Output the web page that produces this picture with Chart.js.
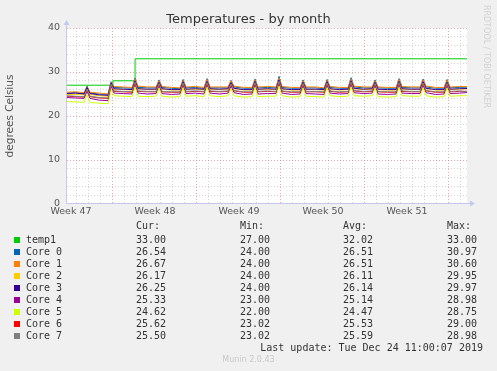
<!DOCTYPE html>
<html>
<head>
<meta charset="utf-8">
<script src="https://cdn.jsdelivr.net/npm/chart.js@4.4.1/dist/chart.umd.min.js"></script>
<style>
  html, body { margin: 0; padding: 0; background: #f0f0f0; }
  #wrap { position: relative; width: 497px; height: 371px; overflow: hidden; font-family: "DejaVu Sans", sans-serif; }
  #wrap canvas { position: absolute; left: 0; top: 0; }
  .t { position: absolute; white-space: pre; line-height: 12px; }
  .mono { font-family: "DejaVu Sans Mono", monospace; font-size: 10px; color: #333; }
  .sw { position: absolute; width: 6px; height: 6px; }
  #title { left: 0; width: 497px; top: 11px; text-align: center; font-size: 13px; line-height: 15px; color: #333; }
  #rrd { left: 486px; top: 5px; font-size: 8px; color: #d2d2d2; transform-origin: 0 0; transform: rotate(90deg) translate(0, -5px); line-height: 10px; }
  #munin { left: 0; width: 497px; text-align: center; top: 355px; font-size: 8px; line-height: 10px; color: #c8c8c8; }
</style>
</head>
<body>
<div id="wrap">
  <canvas id="chart" width="497" height="371"></canvas>
  <div class="t" id="title">Temperatures - by month</div>
  <div class="t" id="rrd">RRDTOOL / TOBI OETIKER</div>
  <div class="t" id="munin">Munin 2.0.43</div>
</div>
<script>
// time in days since start of the graph (12 px per day)
const days = [0, 0.7,
  1.42, 1.67, 1.92, 2.7,
  3.42, 3.67, 3.92, 4.7,
  5.42, 5.67, 5.92, 6.7,
  7.42, 7.67, 7.92, 8.7,
  9.42, 9.67, 9.92, 10.7,
  11.42, 11.67, 11.92, 12.7,
  13.42, 13.67, 13.92, 14.7,
  15.42, 15.67, 15.92, 16.7,
  17.42, 17.67, 17.92, 18.7,
  19.42, 19.67, 19.92, 20.7,
  21.42, 21.67, 21.92, 22.7,
  23.42, 23.67, 23.92, 24.7,
  25.42, 25.67, 25.92, 26.7,
  27.42, 27.67, 27.92, 28.7,
  29.42, 29.67, 29.92, 30.7,
  31.42, 31.67, 31.92, 32.7,
  33.33];

const temp1Days = [0, 3.83, 5.67, 33.33];
const temp1 = [27, 28, 33, 33];

const core0 = [25.2, 25.3,
  25.1, 26.8, 25.2, 25.0,  24.9, 27.8, 26.5, 26.4,  26.3, 28.6, 26.5, 26.4,  26.4, 28.2, 26.5, 26.3,
  26.2, 28.3, 26.4, 26.5,  26.3, 28.5, 26.4, 26.4,  26.4, 28.1, 26.6, 26.3,  26.3, 28.4, 26.4, 26.5,
  26.4, 29.0, 26.5, 26.3,  26.3, 28.2, 26.4, 26.4,  26.2, 28.3, 26.5, 26.3,  26.3, 28.7, 26.6, 26.4,
  26.4, 28.2, 26.4, 26.3,  26.3, 28.5, 26.5, 26.4,  26.4, 28.4, 26.6, 26.3,  26.3, 28.3, 26.4, 26.5,
  26.54];
const core1 = [25.4, 25.5,
  25.3, 26.6, 25.4, 25.2,  25.0, 27.6, 26.7, 26.6,  26.5, 28.4, 26.8, 26.6,  26.6, 28.0, 26.7, 26.5,
  26.4, 28.1, 26.6, 26.7,  26.5, 28.3, 26.6, 26.6,  26.6, 28.0, 26.8, 26.5,  26.5, 28.2, 26.6, 26.7,
  26.6, 28.6, 26.7, 26.5,  26.5, 28.0, 26.6, 26.6,  26.4, 28.1, 26.7, 26.5,  26.5, 28.4, 26.8, 26.6,
  26.6, 28.0, 26.6, 26.5,  26.5, 28.3, 26.7, 26.6,  26.6, 28.2, 26.8, 26.5,  26.5, 28.1, 26.6, 26.7,
  26.67];
const core2 = [24.9, 24.9,
  24.8, 26.3, 24.9, 24.6,  24.5, 27.3, 26.1, 26.0,  25.9, 27.9, 26.2, 26.0,  26.0, 27.6, 26.1, 25.9,
  25.9, 27.7, 26.0, 26.1,  26.0, 27.8, 26.1, 26.0,  26.1, 27.5, 26.2, 25.9,  25.9, 27.8, 26.0, 26.1,
  26.0, 28.1, 26.1, 25.9,  25.9, 27.6, 26.0, 26.0,  25.9, 27.7, 26.1, 25.9,  26.0, 27.9, 26.2, 26.0,
  26.1, 27.6, 26.0, 25.9,  25.9, 27.8, 26.1, 26.0,  26.0, 27.7, 26.2, 25.9,  25.9, 27.6, 26.0, 26.1,
  26.17];
const core3 = [25.1, 25.2,
  25.0, 26.5, 25.1, 24.8,  24.7, 27.5, 26.2, 26.1,  26.0, 28.0, 26.2, 26.1,  26.1, 27.7, 26.2, 26.0,
  26.0, 27.8, 26.1, 26.2,  26.1, 27.9, 26.2, 26.1,  26.2, 27.6, 26.3, 26.0,  26.0, 27.9, 26.1, 26.2,
  26.1, 28.2, 26.2, 26.0,  26.0, 27.7, 26.1, 26.1,  26.0, 27.8, 26.2, 26.0,  26.1, 28.0, 26.3, 26.1,
  26.2, 27.7, 26.1, 26.0,  26.0, 27.9, 26.2, 26.1,  26.1, 27.8, 26.3, 26.0,  26.0, 27.7, 26.1, 26.2,
  26.25];
const core4 = [24.2, 24.1,
  24.0, 25.6, 24.0, 23.6,  23.5, 26.8, 25.2, 25.1,  25.0, 27.2, 25.2, 25.0,  25.1, 26.9, 25.1, 24.9,
  25.0, 27.0, 25.1, 25.2,  25.0, 27.1, 25.2, 25.0,  25.2, 26.8, 25.3, 24.9,  25.0, 27.1, 25.0, 25.1,
  25.1, 27.4, 25.2, 24.9,  25.0, 26.9, 25.1, 25.0,  24.9, 27.0, 25.2, 25.0,  25.1, 27.2, 25.3, 25.1,
  25.2, 26.9, 25.0, 24.9,  25.0, 27.1, 25.2, 25.1,  25.1, 27.0, 25.3, 24.9,  25.0, 26.9, 25.1, 25.2,
  25.33];
const core5 = [23.3, 23.2,
  23.1, 24.8, 23.1, 22.9,  22.8, 26.0, 24.6, 24.5,  24.4, 26.6, 24.5, 24.4,  24.5, 26.3, 24.5, 24.3,
  24.4, 26.4, 24.5, 24.6,  24.4, 26.5, 24.6, 24.4,  24.6, 26.2, 24.6, 24.3,  24.4, 26.5, 24.4, 24.5,
  24.5, 26.8, 24.6, 24.3,  24.4, 26.3, 24.5, 24.4,  24.3, 26.4, 24.6, 24.4,  24.5, 26.6, 24.6, 24.5,
  24.6, 26.3, 24.4, 24.3,  24.4, 26.5, 24.6, 24.5,  24.5, 26.4, 24.6, 24.3,  24.4, 26.3, 24.5, 24.6,
  24.62];
const core6 = [24.5, 24.4,
  24.3, 25.9, 24.4, 24.1,  24.0, 27.0, 25.6, 25.5,  25.4, 27.5, 25.6, 25.5,  25.5, 27.2, 25.5, 25.4,
  25.4, 27.3, 25.5, 25.6,  25.5, 27.4, 25.6, 25.5,  25.6, 27.1, 25.7, 25.4,  25.4, 27.4, 25.5, 25.6,
  25.5, 27.7, 25.6, 25.4,  25.4, 27.2, 25.5, 25.5,  25.4, 27.3, 25.6, 25.4,  25.5, 27.5, 25.7, 25.5,
  25.6, 27.2, 25.5, 25.4,  25.4, 27.4, 25.6, 25.5,  25.5, 27.3, 25.7, 25.4,  25.4, 27.2, 25.5, 25.6,
  25.62];
const core7 = [24.6, 24.5,
  24.4, 26.0, 24.5, 24.2,  24.1, 27.2, 25.7, 25.6,  25.5, 27.7, 25.7, 25.6,  25.6, 27.4, 25.6, 25.5,
  25.5, 27.5, 25.6, 25.7,  25.6, 27.6, 25.7, 25.6,  25.7, 27.3, 25.8, 25.5,  25.5, 27.6, 25.6, 25.7,
  25.6, 27.9, 25.7, 25.5,  25.5, 27.4, 25.6, 25.6,  25.5, 27.5, 25.7, 25.5,  25.6, 27.7, 25.8, 25.6,
  25.7, 27.4, 25.6, 25.5,  25.5, 27.6, 25.7, 25.6,  25.6, 27.5, 25.8, 25.5,  25.5, 27.4, 25.6, 25.7,
  25.50];

const names = ['temp1', 'Core 0', 'Core 1', 'Core 2', 'Core 3', 'Core 4', 'Core 5', 'Core 6', 'Core 7'];
const colors = ['#00CC00', '#0066B3', '#FF8000', '#FFCC00', '#330099', '#990099', '#CCFF00', '#FF0000', '#808080'];
const curVals = [33.00, 26.54, 26.67, 26.17, 26.25, 25.33, 24.62, 25.62, 25.50];
const minVals = [27.00, 24.00, 24.00, 24.00, 24.00, 23.00, 22.00, 23.02, 23.02];
const avgVals = [32.02, 26.51, 26.51, 26.11, 26.14, 25.14, 24.47, 25.53, 25.59];
const maxVals = [33.00, 30.97, 30.60, 29.95, 29.97, 28.98, 28.75, 29.00, 28.98];

const weekLabels = ['Week 47', 'Week 48', 'Week 49', 'Week 50', 'Week 51'];
const weekLabelDays = [0.33, 7.33, 14.33, 21.33, 28.33];
const weekStartDays = [3.75, 10.75, 17.75, 24.75, 31.75];
const firstDayLine = 0.75;
const lastUpdate = 'Last update: Tue Dec 24 11:00:07 2019';

const redGrid = 'rgba(225,130,130,0.7)';
const grayGrid = 'rgba(200,200,200,0.75)';
const axisColor = '#c4c8ee';

const coreSeries = [core0, core1, core2, core3, core4, core5, core6, core7];

const datasets = [{
  label: names[0],
  data: temp1Days.map((d, i) => ({ x: d, y: temp1[i] })),
  borderColor: colors[0],
  stepped: 'before'
}];
coreSeries.forEach((vals, i) => {
  datasets.push({
    label: names[i + 1],
    data: days.map((d, j) => ({ x: d, y: vals[j] })),
    borderColor: colors[i + 1]
  });
});
datasets.forEach((ds, i) => {
  ds.borderWidth = 1;
  ds.pointRadius = 0;
  ds.tension = 0;
  ds.fill = false;
  ds.order = datasets.length - i;
});

const frame = {
  id: 'frame',
  beforeDraw(chart) {
    const { ctx, chartArea: a } = chart;
    ctx.save();
    ctx.fillStyle = '#ffffff';
    ctx.fillRect(a.left, a.top, a.right - a.left, a.bottom - a.top);
    ctx.restore();
  },
  afterDraw(chart) {
    const { ctx, chartArea: a } = chart;
    const x0 = Math.round(a.left) - 0.5;
    const y0 = Math.round(a.bottom) - 0.5;
    ctx.save();
    ctx.strokeStyle = axisColor;
    ctx.fillStyle = axisColor;
    ctx.lineWidth = 1;
    ctx.beginPath();
    ctx.moveTo(x0, y0);
    ctx.lineTo(x0, a.top - 3);
    ctx.moveTo(x0, y0);
    ctx.lineTo(a.right + 3, y0);
    ctx.stroke();
    ctx.beginPath();
    ctx.moveTo(x0, a.top - 8);
    ctx.lineTo(x0 - 3, a.top - 3);
    ctx.lineTo(x0 + 3, a.top - 3);
    ctx.closePath();
    ctx.fill();
    ctx.beginPath();
    ctx.moveTo(a.right + 8, y0);
    ctx.lineTo(a.right + 3, y0 - 3);
    ctx.lineTo(a.right + 3, y0 + 3);
    ctx.closePath();
    ctx.fill();
    ctx.restore();
  }
};

new Chart(document.getElementById('chart'), {
  type: 'line',
  data: { datasets: datasets },
  options: {
    responsive: false,
    animation: false,
    events: [],
    layout: { padding: { left: 0, top: 28, right: 30, bottom: 147 } },
    plugins: { legend: { display: false }, tooltip: { enabled: false } },
    scales: {
      x: {
        type: 'linear',
        min: 0,
        max: 33.33,
        afterBuildTicks(scale) {
          const ticks = [];
          for (let d = firstDayLine; d < scale.max; d += 1) {
            const isWeek = weekStartDays.some(w => Math.abs(w - d) < 0.01);
            ticks.push({ value: d, kind: isWeek ? 'week' : 'day' });
          }
          weekLabelDays.forEach((d, i) => ticks.push({ value: d, kind: 'label', name: weekLabels[i] }));
          ticks.sort((a, b) => a.value - b.value);
          scale.ticks = ticks;
        },
        afterFit(scale) { scale.height = 20; },
        grid: {
          drawTicks: false,
          color: ctx => {
            if (!ctx.tick) return 'rgba(0,0,0,0)';
            if (ctx.tick.kind === 'week') return redGrid;
            if (ctx.tick.kind === 'day') return grayGrid;
            return 'rgba(0,0,0,0)';
          }
        },
        border: { display: false, dash: [1, 2] },
        ticks: {
          autoSkip: false,
          maxRotation: 0,
          padding: 2,
          color: '#555',
          font: { family: 'DejaVu Sans', size: 9.5 },
          callback: (v, i, ticks) => ticks[i].name || ''
        }
      },
      y: {
        min: 0,
        max: 40,
        afterFit(scale) { scale.width = 67; },
        grid: {
          drawTicks: false,
          color: ctx => {
            if (!ctx.tick || ctx.tick.value === 0) return 'rgba(0,0,0,0)';
            return ctx.tick.value % 10 === 0 ? redGrid : grayGrid;
          }
        },
        border: { display: false, dash: [1, 2] },
        ticks: {
          stepSize: 2,
          autoSkip: false,
          padding: 7,
          color: '#555',
          font: { family: 'DejaVu Sans', size: 9.5 },
          callback: v => (v % 10 === 0 ? String(v) : '')
        },
        title: {
          display: true,
          text: 'degrees Celsius',
          color: '#555',
          font: { family: 'DejaVu Sans', size: 10.5 },
          padding: { top: 4, bottom: 0 }
        }
      }
    }
  },
  plugins: [frame]
});

// legend table under the graph
const wrap = document.getElementById('wrap');
function addText(txt, left, top, extra) {
  const el = document.createElement('div');
  el.className = 't mono';
  el.textContent = txt;
  el.style.left = left + 'px';
  el.style.top = top + 'px';
  if (extra) Object.assign(el.style, extra);
  wrap.appendChild(el);
  return el;
}
const colX = [136, 240, 343, 447];
['Cur:', 'Min:', 'Avg:', 'Max:'].forEach((h, c) => addText(h, colX[c], 220));
names.forEach((n, i) => {
  const top = 234 + i * 12;
  const sw = document.createElement('div');
  sw.className = 'sw';
  sw.style.left = '14px';
  sw.style.top = (top + 3) + 'px';
  sw.style.background = colors[i];
  wrap.appendChild(sw);
  addText(n, 26, top);
  [curVals, minVals, avgVals, maxVals].forEach((arr, c) => addText(arr[i].toFixed(2), colX[c], top));
});
addText(lastUpdate, 0, 342, { left: 'auto', right: '14px' });
</script>
</body>
</html>
